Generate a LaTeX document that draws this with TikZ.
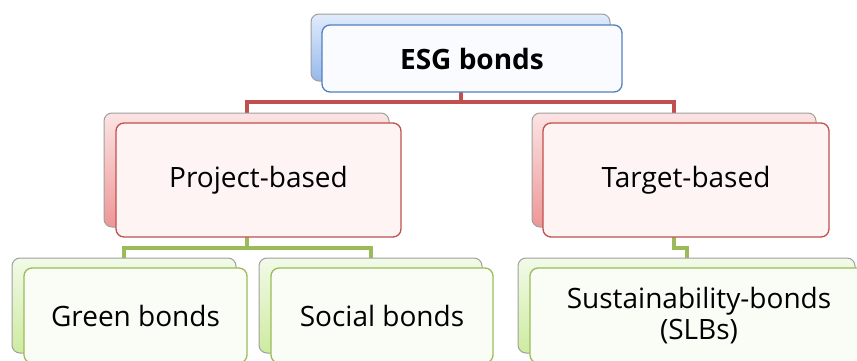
\documentclass[tikz,border=0pt]{standalone}
\usepackage{fontspec}
\setmainfont{Open Sans}
\usetikzlibrary{backgrounds}

\definecolor{esgblue}{RGB}{79,129,189}
\definecolor{esgred}{RGB}{192,80,77}
\definecolor{esggreen}{RGB}{155,187,89}
\definecolor{bluetop}{RGB}{225,235,252}
\definecolor{bluebot}{RGB}{150,185,235}
\definecolor{redtop}{RGB}{252,228,228}
\definecolor{redbot}{RGB}{238,150,150}
\definecolor{greentop}{RGB}{242,250,232}
\definecolor{greenbot}{RGB}{205,235,160}
\definecolor{bluefront}{RGB}{250,251,255}
\definecolor{redfront}{RGB}{254,244,244}
\definecolor{greenfront}{RGB}{250,253,246}

\tikzset{
  backbox/.style 2 args={draw=gray!75, line width=1pt, rounded corners=8pt,
    inner sep=0pt, top color=#1, bottom color=#2},
  frontbox/.style 2 args={draw=#1, fill=#2, line width=1.3pt, rounded corners=8pt,
    inner sep=0pt, align=center, font=\fontsize{28}{31}\selectfont},
  link/.style={draw=#1, line width=4pt},
}

\begin{document}
\begin{tikzpicture}[x=1pt, y=1pt]
    \useasboundingbox (0,0) rectangle (857,360);

    % top level
    \node[backbox={bluetop}{bluebot}, minimum width=299pt, minimum height=67pt] (esgback) at (460.5,312.5) {};
    \node[frontbox={esgblue}{bluefront}, minimum width=300pt, minimum height=67pt] (esg) at (472,301.5) {\textbf{ESG bonds}};

    % second level
    \node[backbox={redtop}{redbot}, minimum width=285pt, minimum height=114pt] (projback) at (246.5,190) {};
    \node[frontbox={esgred}{redfront}, minimum width=285pt, minimum height=114pt] (proj) at (258.5,180) {Project-based};
    \node[backbox={redtop}{redbot}, minimum width=284pt, minimum height=114pt] (targback) at (674,190) {};
    \node[frontbox={esgred}{redfront}, minimum width=286pt, minimum height=114pt] (targ) at (686,180) {Target-based};

    % third level
    \node[backbox={greentop}{greenbot}, minimum width=224pt, minimum height=95pt] (greenback) at (124,54.5) {};
    \node[frontbox={esggreen}{greenfront}, minimum width=223pt, minimum height=95pt] (green) at (135.5,44.5) {Green bonds};
    \node[backbox={greentop}{greenbot}, minimum width=223pt, minimum height=95pt] (socback) at (370.5,54.5) {};
    \node[frontbox={esggreen}{greenfront}, minimum width=222pt, minimum height=95pt] (soc) at (382,44.5) {Social bonds};
    \node[backbox={greentop}{greenbot}, minimum width=337pt, minimum height=95pt] (slbback) at (686.5,54.5) {};
    \node[frontbox={esggreen}{greenfront}, minimum width=338pt, minimum height=95pt] (slb) at (699,44.5) {Sustainability-bonds\\(SLBs)};

    \begin{scope}[on background layer]
      \draw[link=esgred] (esgback.south) -- ++(0,-20) -| (projback.north);
      \draw[link=esgred] (esgback.south) -- ++(0,-20) -| (targback.north);
      \draw[link=esggreen] (projback.south) -- ++(0,-20) -| (greenback.north);
      \draw[link=esggreen] (projback.south) -- ++(0,-20) -| (socback.north);
      \draw[link=esggreen] (targback.south) -- ++(0,-20) -| (slbback.north);
    \end{scope}
  \end{tikzpicture}
\end{document}
